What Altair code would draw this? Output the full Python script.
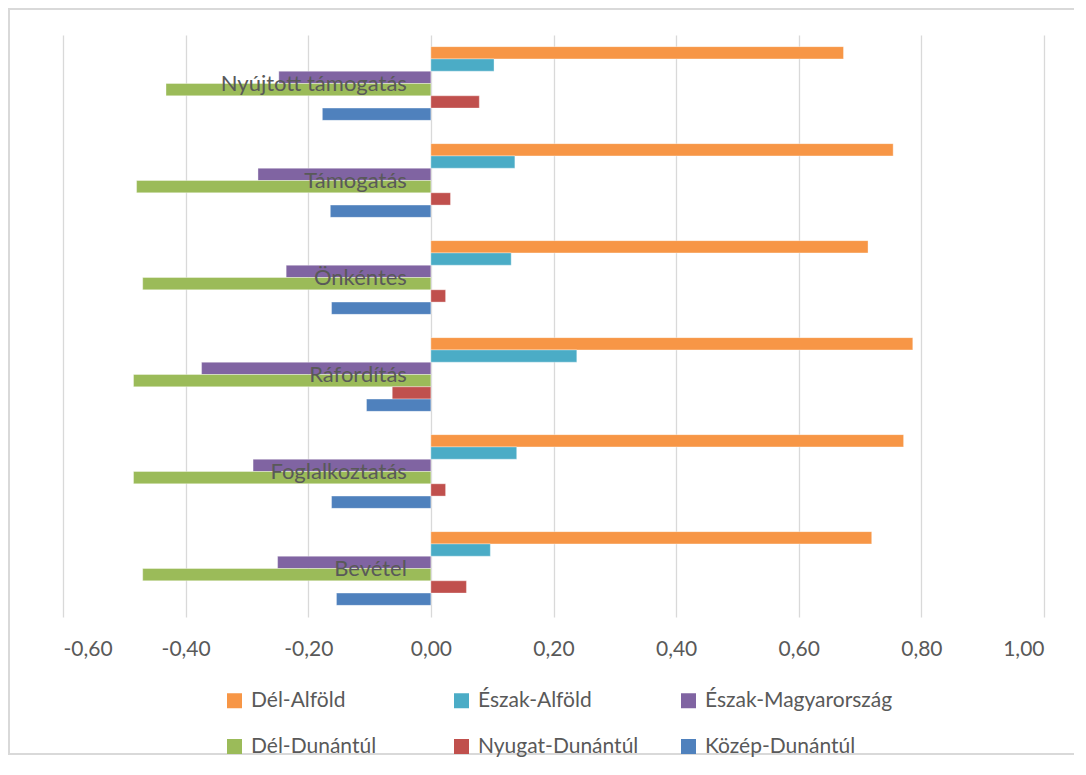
import altair as alt
import pandas as pd

categories = ["Nyújtott támogatás", "Támogatás", "Önkéntes", "Ráfordítás", "Foglalkoztatás", "Bevétel"]
series = ["Dél-Alföld", "Észak-Alföld", "Észak-Magyarország", "Dél-Dunántúl", "Nyugat-Dunántúl", "Közép-Dunántúl"]
colors = ["#F79646", "#4BACC6", "#8064A2", "#9BBB59", "#C0504D", "#4F81BD"]

del_alfold = [0.673, 0.754, 0.713, 0.786, 0.771, 0.719]
eszak_alfold = [0.103, 0.137, 0.131, 0.238, 0.140, 0.097]
eszak_magyarorszag = [-0.248, -0.282, -0.236, -0.374, -0.290, -0.250]
del_dunantul = [-0.432, -0.480, -0.470, -0.485, -0.485, -0.470]
nyugat_dunantul = [0.079, 0.032, 0.024, -0.063, 0.024, 0.058]
kozep_dunantul = [-0.177, -0.164, -0.162, -0.105, -0.162, -0.154]

tick_values = [-0.6, -0.4, -0.2, 0.0, 0.2, 0.4, 0.6, 0.8, 1.0]

all_values = [del_alfold, eszak_alfold, eszak_magyarorszag, del_dunantul, nyugat_dunantul, kozep_dunantul]
rows = []
for s, vals in zip(series, all_values):
    for c, v in zip(categories, vals):
        rows.append({"category": c, "series": s, "value": v})
df = pd.DataFrame(rows)
cat_df = pd.DataFrame({"category": categories, "zero": [0.0] * len(categories)})

W, H = 981, 582
FONT = "Lato"
GRAY = "#595959"

x_enc = alt.X(
    "value:Q",
    scale=alt.Scale(domain=[-0.6, 1.0], nice=False, zero=False),
    axis=alt.Axis(
        values=tick_values,
        labelExpr="replace(replace(format(datum.value, '.2f'), '.', ','), '\u2212', '-')",
        grid=True, gridColor="#d9d9d9", gridWidth=1.3,
        domain=False, ticks=False, labelPadding=21,
        labelFont=FONT, labelFontSize=21, labelColor=GRAY, title=None,
    ),
)
y_enc = alt.Y(
    "category:N", sort=categories,
    scale=alt.Scale(paddingInner=0.24, paddingOuter=0.12),
    axis=None,
)

bars = alt.Chart(df).mark_bar(stroke="white", strokeWidth=0.6, strokeOpacity=0.6).encode(
    x=x_enc,
    y=y_enc,
    yOffset=alt.YOffset("series:N", sort=series),
    color=alt.Color(
        "series:N",
        scale=alt.Scale(domain=series, range=colors),
        legend=alt.Legend(
            title=None, orient="none", legendX=161, legendY=655,
            columns=3, gridAlign="all", columnPadding=12, rowPadding=24,
            symbolType="square", symbolSize=225, symbolStrokeWidth=0,
            labelFont=FONT, labelFontSize=21, labelColor=GRAY, labelOffset=6,
            labelLimit=400, padding=0, direction="horizontal",
        ),
    ),
)

labels = alt.Chart(cat_df).mark_text(
    align="right", baseline="middle", dx=-24, font=FONT, fontSize=22, color=GRAY
).encode(
    x=alt.X("zero:Q", scale=alt.Scale(domain=[-0.6, 1.0], nice=False, zero=False)),
    y=alt.Y("category:N", sort=categories),
    text="category:N",
)

border = alt.Chart(cat_df).mark_rect(fill=None, stroke="#d9d9d9", strokeWidth=1.5).encode(
    x=alt.value(-54), x2=alt.value(1017), y=alt.value(-26), y2=alt.value(719)
)

chart = alt.layer(bars, labels, border).properties(
    width=W, height=H,
    autosize=alt.AutoSizeParams(type="none"),
    padding={"left": 55, "top": 27, "right": 30, "bottom": 140},
).configure(background="white").configure_view(stroke=None)

chart.save("out.html", embed_options={"renderer": "svg", "actions": False})
